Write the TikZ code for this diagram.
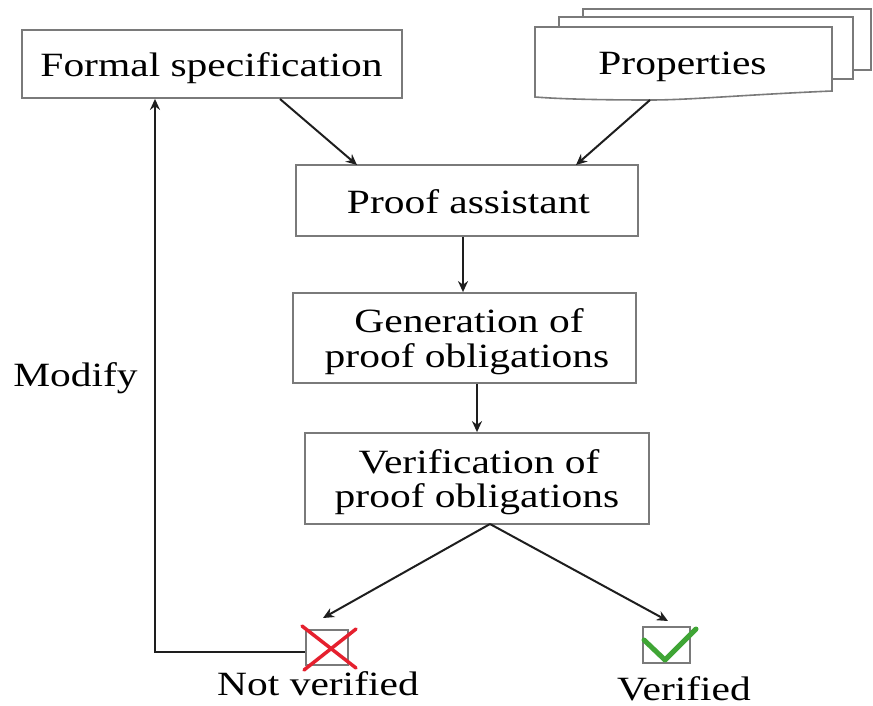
\documentclass[tikz,border=0pt]{standalone}
\usepackage{fontspec}
\setmainfont{Liberation Serif}[FakeStretch=1.22]
\usetikzlibrary{arrows.meta}
\definecolor{boxgray}{HTML}{7A7A7A}
\definecolor{linedark}{HTML}{1E1E1E}
\definecolor{crossred}{HTML}{E5202E}
\definecolor{checkgreen}{HTML}{3FA535}
\newcommand\labelfont{\fontsize{34}{34}\selectfont}
\begin{document}
\begin{tikzpicture}[x=1pt,y=-1pt,
  box/.style={draw=boxgray, line width=1.8pt, fill=white, inner sep=0pt},
  page/.style={draw=boxgray, line width=1.6pt, fill=white},
  flow/.style={draw=linedark, line width=2pt, -{Stealth[length=11pt,width=10pt]}},
  tick/.style={draw=boxgray, line width=1.8pt, fill=white, inner sep=0pt},
  caption/.style={font=\labelfont, inner sep=0pt, anchor=base}]
\useasboundingbox (0,0) rectangle (873,706);

% process boxes (frames), texts placed on their baselines
\node[box, minimum width=380pt, minimum height=68pt] (spec) at (212,64) {};
\node[box, minimum width=342pt, minimum height=71pt] (pa) at (467,200.5) {};
\node[box, minimum width=343pt, minimum height=90pt] (gen) at (464.5,338) {};
\node[box, minimum width=344pt, minimum height=91pt] (ver) at (477,478.5) {};

\node[caption] (spec-t) at (211.5,77) {Formal specification};
\node[caption] (pa-t) at (468.5,213) {Proof assistant};
\node[caption] (gen-t1) at (469,332) {Generation of};
\node[caption] (gen-t2) at (467,367) {proof obligations};
\node[caption] (ver-t1) at (479,473) {Verification of};
\node[caption] (ver-t2) at (477,507) {proof obligations};

% stacked document pages for the properties
\draw[page] (583,9) rectangle (871,70);
\draw[page] (559,17) rectangle (853,79);
\draw[page] (535,27) -- (832,27) -- (832,91)
  .. controls (740,95) and (690,100) .. (650,100)
  .. controls (600,100) and (560,99) .. (535,97) -- cycle;
\node[caption] (props) at (682.5,75) {Properties};
\coordinate (propsfoot) at (650,100);
\coordinate (specfoot) at (280,99);

% result boxes with their marks
\node[tick, minimum width=42pt, minimum height=35pt] (nv) at (327,647.5) {};
\node[tick, minimum width=47pt, minimum height=36pt] (ok) at (666.5,645) {};
\draw[crossred, line width=3.5pt, line cap=round] (302,626) -- (356,668);
\draw[crossred, line width=3.5pt, line cap=round] (356,629) -- (304,670);
\draw[checkgreen, line width=5pt, line cap=round, line join=round]
  (644,640) -- (665,660) -- (696,629);
\node[caption] (nvlabel) at (318,695) {Not verified};
\node[caption] (oklabel) at (684,700) {Verified};

% connectors
\coordinate (verfoot) at (490,524);
\draw[flow] (specfoot) -- (357,165);
\draw[flow] (propsfoot) -- (576,165);
\draw[flow] (pa.south -| 463,0) -- (gen.north -| 463,0);
\draw[flow] (gen.south -| 477,0) -- (ver.north -| 477,0);
\draw[flow] (verfoot) -- (323,618);
\draw[flow] (verfoot) -- (668,621);
\draw[flow] ([yshift=-4.5pt]nv.west) -| ([xshift=-57pt]spec.south);
\node[caption] (modify) at (75.5,386.5) {Modify};
\end{tikzpicture}
\end{document}
